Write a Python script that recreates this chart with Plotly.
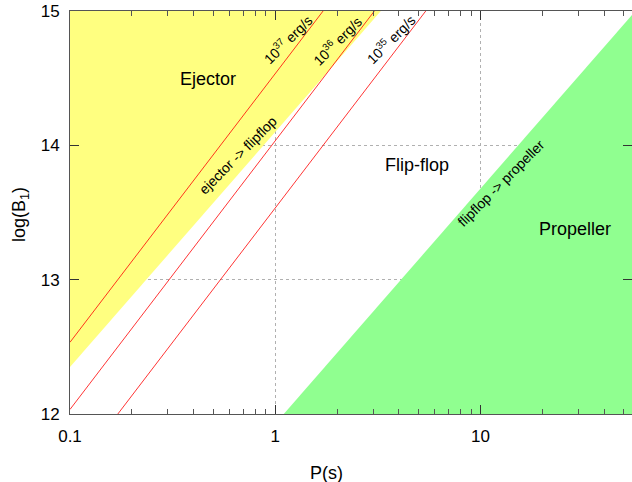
import math
import plotly.graph_objects as go

# ---- data ----
x_range_P = [0.1, 54.7]           # period axis range (s)
y_range_logB = [12.0, 15.0]       # log(B1) axis range

# ejector region boundary (yellow) : polygon vertices
ejector_P = [0.1, 3.27, 0.1]
ejector_logB = [12.35, 15.0, 15.0]

# propeller region boundary (green) : polygon vertices
propeller_P = [1.10, 54.7, 54.7]
propeller_logB = [12.0, 14.97, 12.0]

# constant-luminosity lines (red) : end points
lum_names = ["10<sup>37</sup> erg/s", "10<sup>36</sup> erg/s", "10<sup>35</sup> erg/s"]
lum_P = [[0.1, 1.71], [0.1, 3.04], [0.171, 5.41]]
lum_logB = [[12.534, 15.0], [12.034, 15.0], [12.0, 15.0]]
lum_label_P = [1.15, 2.01, 3.65]
lum_label_logB = [14.79, 14.785, 14.79]

# region labels
region_names = ["Ejector", "Flip-flop", "Propeller"]
region_P = [0.472, 4.91, 28.8]
region_logB = [14.494, 13.854, 13.378]

# boundary labels
boundary_names = ["ejector -> flipflop", "flipflop -> propeller"]
boundary_P = [0.658, 12.6]
boundary_logB = [13.93, 13.72]

x_tickvals = [0.1, 1, 10]
x_ticktext = ["0.1", "1", "10"]
x_minor_tickvals = [0.2, 0.3, 0.4, 0.5, 0.6, 0.7, 0.8, 0.9,
                    2, 3, 4, 5, 6, 7, 8, 9, 20, 30, 40, 50]
y_tickvals = [12, 13, 14, 15]
y_ticktext = ["12", "13", "14", "15"]
x_title = "P(s)"
y_title = "log(B<sub>1</sub>)"

FONT = "Liberation Sans, Arial, Helvetica, sans-serif"

fig = go.Figure()

fig.add_trace(go.Scatter(x=ejector_P, y=ejector_logB, fill="toself", mode="none",
                         fillcolor="#ffff80", showlegend=False, hoverinfo="skip"))
fig.add_trace(go.Scatter(x=propeller_P, y=propeller_logB, fill="toself", mode="none",
                         fillcolor="#90ff90", showlegend=False, hoverinfo="skip"))

for px, py in zip(lum_P, lum_logB):
    fig.add_trace(go.Scatter(x=px, y=py, mode="lines",
                             line=dict(color="#ff0000", width=0.8),
                             showlegend=False, hoverinfo="skip"))

# invisible trace on the minor-tick axis so it is drawn
fig.add_trace(go.Scatter(x=[x_range_P[0]], y=[y_range_logB[0]], xaxis="x2", mode="markers",
                         marker=dict(opacity=0), showlegend=False, hoverinfo="skip"))

annotations = []
for name, px, py in zip(lum_names, lum_label_P, lum_label_logB):
    annotations.append(dict(x=math.log10(px), y=py, xref="x", yref="y", text=name, showarrow=False,
                            textangle=-45, font=dict(size=14, color="black", family=FONT)))
for name, px, py in zip(region_names, region_P, region_logB):
    annotations.append(dict(x=math.log10(px), y=py, xref="x", yref="y", text=name, showarrow=False,
                            font=dict(size=18, color="black", family=FONT)))
for name, px, py in zip(boundary_names, boundary_P, boundary_logB):
    annotations.append(dict(x=math.log10(px), y=py, xref="x", yref="y", text=name, showarrow=False,
                            textangle=-45, font=dict(size=14, color="black", family=FONT)))
annotations.append(dict(x=(326 - 70) / 562, y=-(473 - 414) / 403, xref="paper", yref="paper",
                        text=x_title, showarrow=False, xanchor="center", yanchor="middle",
                        font=dict(size=18, color="black", family=FONT)))
annotations.append(dict(x=(20 - 70) / 562, y=(414 - 215) / 403, xref="paper", yref="paper",
                        text=y_title, showarrow=False, xanchor="center", yanchor="middle",
                        textangle=-90, font=dict(size=18, color="black", family=FONT)))

xr = [math.log10(x_range_P[0]), math.log10(x_range_P[1])]
fig.update_layout(
    template="none",
    width=632, height=482,
    margin=dict(l=70, r=0, t=11, b=68, autoexpand=False),
    paper_bgcolor="white", plot_bgcolor="white",
    font=dict(family=FONT, size=17, color="black"),
    annotations=annotations,
    xaxis=dict(
        type="log", range=xr, automargin=False,
        tickvals=x_tickvals, ticktext=x_ticktext,
        ticks="inside", ticklen=9, tickcolor="#333333", tickwidth=1,
        showline=True, linecolor="#555555", linewidth=1, mirror="ticks",
        showgrid=True, gridcolor="#b0b0b0", griddash="dot", gridwidth=1,
        zeroline=False, layer="above traces",
        ticklabelstandoff=7,
    ),
    xaxis2=dict(
        type="log", range=xr, overlaying="x", automargin=False,
        tickvals=x_minor_tickvals, showticklabels=False,
        ticks="inside", ticklen=5, tickcolor="#555555", tickwidth=1,
        showline=False, mirror="ticks", showgrid=False, zeroline=False,
        layer="above traces",
    ),
    yaxis=dict(
        range=y_range_logB, automargin=False,
        tickvals=y_tickvals, ticktext=y_ticktext,
        ticks="inside", ticklen=9, tickcolor="#333333", tickwidth=1,
        showline=True, linecolor="#555555", linewidth=1, mirror="ticks",
        showgrid=True, gridcolor="#b0b0b0", griddash="dot", gridwidth=1,
        zeroline=False, layer="above traces",
        ticklabelstandoff=6,
    ),
)

fig.write_html("out.html",
               config={"displayModeBar": False},
               post_script="document.body.style.margin='0px';document.body.style.overflow='hidden';")
